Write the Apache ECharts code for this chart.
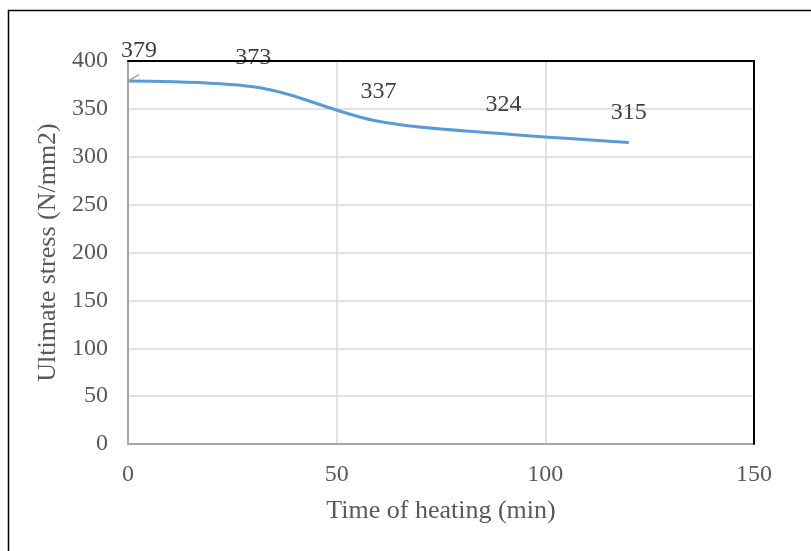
<!DOCTYPE html>
<html>
<head>
<meta charset="utf-8">
<script src="https://cdn.jsdelivr.net/npm/echarts@6/dist/echarts.min.js"></script>
<style>
    html, body { margin: 0; padding: 0; background: #fff; }
    #chart { width: 811px; height: 551px; }
</style>
</head>
<body>
<div id="chart"></div>
<script>
// data
const times = [0, 30, 60, 90, 120];
const stress = [379, 373, 337, 324, 315];
const xTicks = [0, 50, 100, 150];
const yTicks = [0, 50, 100, 150, 200, 250, 300, 350, 400];

const font = '"Liberation Serif", "Times New Roman", serif';
const textColor = '#595959';

const chart = echarts.init(document.getElementById('chart'));

const points = times.map((t, i) => {
    const p = { value: [t, stress[i]] };
    // first label sits a bit right with a leader line
    if (i === 0) {
        p.label = { offset: [11, -1] };
        p.labelLine = { show: true };
    }
    return p;
});

// black frame on top / right of the plot
const frameAxis = {
    type: 'value',
    z: 10,
    axisLine: { show: true, onZero: false, lineStyle: { color: '#000', width: 2 } },
    axisTick: { show: false },
    axisLabel: { show: false },
    splitLine: { show: false }
};

chart.setOption({
    animation: false,
    textStyle: { fontFamily: font },
    graphic: [
        {
            type: 'rect',
            shape: { x: 8.5, y: 10.5, width: 830, height: 580 },
            style: { fill: 'none', stroke: '#000', lineWidth: 1.5 },
            silent: true
        }
    ],
    grid: {
        left: 128,
        top: 61,
        right: 57,
        bottom: 107
    },
    xAxis: [
        {
            type: 'value',
            min: xTicks[0],
            max: xTicks[xTicks.length - 1],
            interval: 50,
            name: 'Time of heating (min)',
            nameLocation: 'middle',
            nameGap: 54,
            nameTextStyle: { fontFamily: font, fontSize: 26, color: textColor },
            axisLine: { show: true, onZero: false, lineStyle: { color: '#a6a6a6', width: 2 } },
            axisTick: { show: false },
            axisLabel: { margin: 19, fontFamily: font, fontSize: 24, color: textColor },
            splitLine: { show: true, lineStyle: { color: '#d9d9d9', width: 1.5 } }
        },
        Object.assign({ position: 'top', min: 0, max: 150 }, frameAxis)
    ],
    yAxis: [
        {
            type: 'value',
            min: yTicks[0],
            max: yTicks[yTicks.length - 1],
            interval: 50,
            name: 'Ultimate stress (N/mm2)',
            nameLocation: 'middle',
            nameGap: 65,
            nameTextStyle: { fontFamily: font, fontSize: 26, color: textColor },
            axisLine: { show: true, onZero: false, lineStyle: { color: '#a6a6a6', width: 2 } },
            axisTick: { show: false },
            axisLabel: { margin: 20, fontFamily: font, fontSize: 24, color: textColor },
            splitLine: { show: true, lineStyle: { color: '#d9d9d9', width: 1.5 } }
        },
        Object.assign({ position: 'right', min: 0, max: 400 }, frameAxis)
    ],
    series: [
        {
            type: 'line',
            data: points,
            smooth: 0.35,
            showSymbol: true,
            symbol: 'circle',
            symbolSize: 1,
            itemStyle: { color: 'rgba(0,0,0,0)' },
            lineStyle: { color: '#5b9bd5', width: 3 },
            label: {
                show: true,
                position: 'top',
                distance: 17,
                fontFamily: font,
                fontSize: 24,
                color: '#404040',
                formatter: p => p.value[1]
            },
            labelLine: { show: false, lineStyle: { color: '#a6a6a6', width: 1.5 } }
        }
    ]
});
</script>
</body>
</html>
